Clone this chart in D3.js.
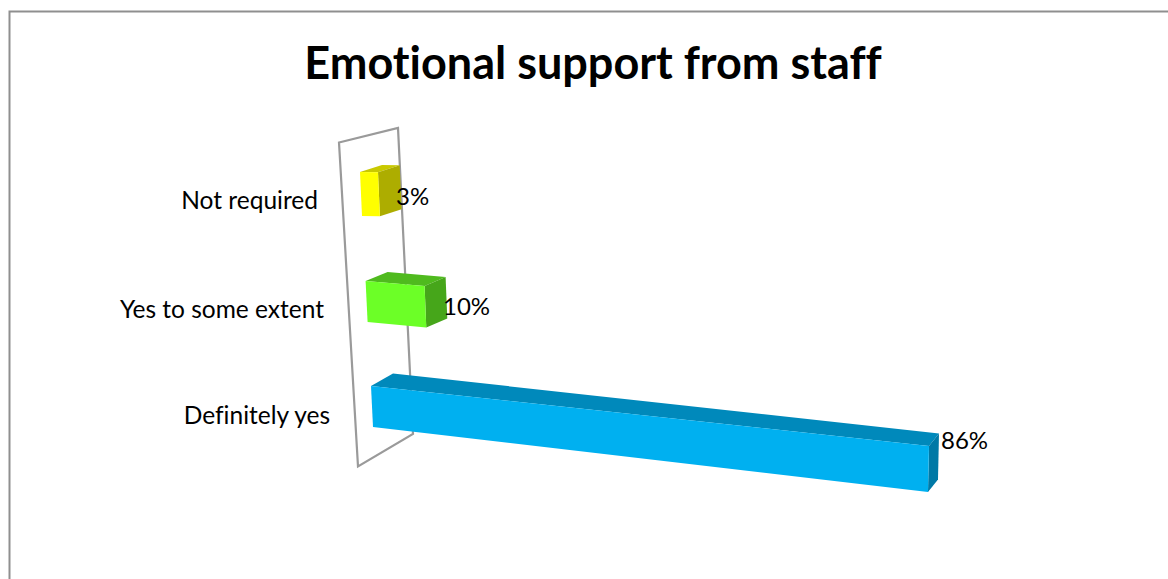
<!DOCTYPE html>
<html>
<head>
<meta charset="utf-8">
<script src="https://cdn.jsdelivr.net/npm/d3@7/dist/d3.min.js"></script>
<style>
  html, body { margin: 0; padding: 0; background: #fff; }
  svg { display: block; }
  text { font-family: Lato, sans-serif; fill: #000; font-variant-ligatures: none; font-feature-settings: "liga" 0; }
  .title { font-weight: 700; }
</style>
</head>
<body>
<svg id="chart" width="1168" height="579"></svg>
<script>
// Survey responses, drawn top to bottom
const categories = ["Not required", "Yes to some extent", "Definitely yes"];
const percents = [3, 10, 86];
const frontColors = ["#FFFF00", "#6CFF27", "#00B0F0"];
const topColors = ["#C9C900", "#4FBA1E", "#0089BB"];
const sideColors = ["#ADAD00", "#46A61A", "#0079A6"];
const titleText = "Emotional support from staff";

const svg = d3.select("#chart");

// Outer chart frame: only its top and left edges fall inside the window
svg.append("path")
  .attr("d", "M9.5,579V11.5H1168")
  .attr("fill", "none").attr("stroke", "#8f8f8f").attr("stroke-width", 2);

svg.append("text").attr("class", "title")
  .attr("x", 593).attr("y", 79)
  .attr("text-anchor", "middle").attr("font-size", 45)
  .text(titleText);

// Row and value scales for the tilted pseudo-3D plot
const rowIndex = d3.scaleLinear().domain([0, 1, 2]).range([172, 281, 386]);
const row = c => rowIndex(categories.indexOf(c));
const value = d3.scaleLinear().domain([0, 3, 10, 86]).range([0, 18, 59, 558]);
const leftEdge = d3.scaleLinear().domain([172, 386]).range([360, 371]);
const tilt = d3.scaleLinear().domain([172, 281, 386]).range([0.01, 0.085, 0.1075]);
const faceHeight = d3.scaleLinear().domain([172, 281, 386]).range([44, 41, 41]);
const depthX = d3.scaleLinear().domain([0, 10, 86]).range([22, 21, 10]);
const depthY = d3.scaleLinear().domain([172, 281, 386]).range([-7, -9, -12.5]);

// Projects a value along a row onto the front face, at a fraction of its height
function front(cat, v, f) {
  const y0 = row(cat), run = value(v);
  const h = faceHeight(y0) + run * 0.009;
  return [leftEdge(y0) + run + f * (2 - run * 0.0054), y0 + run * tilt(y0) + f * h];
}
// Same point pushed back to the far side of the bar
function back(cat, v, f) {
  const p = front(cat, v, f);
  return [p[0] + depthX(v), p[1] + depthY(row(cat))];
}

// Back wall of the plot
const wallPts = [[339, 142.5], [398, 128], [413, 434], [358, 466.5]];
svg.append("path")
  .attr("d", d3.line()(wallPts) + "Z")
  .attr("fill", "none").attr("stroke", "#9a9a9a").attr("stroke-width", 2.2);

const line = d3.line();
const bars = svg.selectAll("g.bar").data(categories).join("g").attr("class", "bar");

bars.each(function (c, i) {
  const g = d3.select(this), v = percents[i];
  g.append("path").attr("fill", topColors[i])
    .attr("d", line([front(c, 0, 0), back(c, 0, 0), back(c, v, 0), front(c, v, 0)]) + "Z");
  g.append("path").attr("fill", sideColors[i])
    .attr("d", line([front(c, v, 0), back(c, v, 0), back(c, v, 1), front(c, v, 1)]) + "Z");
  g.append("path").attr("fill", frontColors[i])
    .attr("d", line([front(c, 0, 0), front(c, v, 0), front(c, v, 1), front(c, 0, 1)]) + "Z");
});

// Category labels end just left of the wall
const labelRight = [318, 324, 330];
const labelBase = [209, 318, 424];
svg.selectAll("text.cat").data(categories).join("text").attr("class", "cat")
  .attr("x", (d, i) => labelRight[i]).attr("y", (d, i) => labelBase[i])
  .attr("text-anchor", "end").attr("font-size", 24.5)
  .text(d => d);

// Value labels sit at the far end of each bar
const valueLeft = [396, 443, 941];
const valueBase = [205, 315, 449];
svg.selectAll("text.val").data(percents).join("text").attr("class", "val")
  .attr("x", (d, i) => valueLeft[i]).attr("y", (d, i) => valueBase[i])
  .attr("font-size", 24)
  .text(d => d + "%");
</script>
</body>
</html>
